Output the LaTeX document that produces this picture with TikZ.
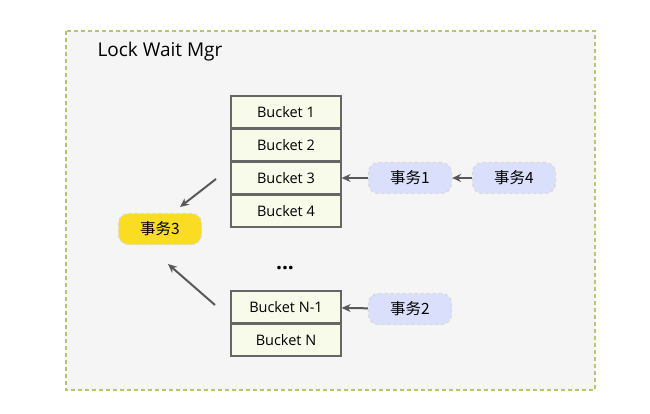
\documentclass[tikz,border=0pt]{standalone}
\usepackage{fontspec}
\setmainfont{Open Sans}
\newfontfamily\cjk{Noto Sans CJK SC}
\usetikzlibrary{arrows.meta}
\definecolor{mgrfill}{HTML}{F5F5F5}
\definecolor{mgrline}{HTML}{B3C86C}
\definecolor{bucketfill}{HTML}{F8FAEA}
\definecolor{trxfill}{HTML}{DAE0FB}
\definecolor{trxwait}{HTML}{FADC23}
\begin{document}
\begin{tikzpicture}[x=1pt,y=-1pt,
        bucket/.style={
          draw=black!60,line width=1.2pt,fill=bucketfill,minimum width=110pt,minimum height=32pt,
          inner sep=0pt,font=\fontsize{14.5}{16}\selectfont
        },
        trx/.style={
          draw=black!15,dashed,line width=1.2pt,fill=trxfill,rounded corners=10pt,
          minimum width=83pt,minimum height=31pt,inner sep=0pt,font=\cjk\fontsize{15.5}{17}\selectfont
        },
        link/.style={
          color=black!65,line width=2pt,-{Stealth[length=9pt,width=8pt]}
        }
      ]
      \useasboundingbox (0,0) rectangle (650,414);
      \draw [mgrline,fill=mgrfill,line width=2.4pt,dash pattern=on 4pt off 3pt] (66,31) rectangle (595,390);
      \node [anchor=west,font=\fontsize{19}{21}\selectfont] (title) at (94,52) {Lock Wait Mgr};
      % buckets
      \foreach \i in {1,...,4}
        \node [bucket] (b\i) at (286,79+33*\i) {Bucket \i};
      \node [font=\fontsize{21}{23}\selectfont\bfseries] (dots) at (285,268) {...};
      \node [bucket] (bn1) at (286,307) {Bucket N-1};
      \node [bucket] (bn) at (286,340) {Bucket N};
      % transactions
      \node [trx] (t1) at (410,178) {事务1};
      \node [trx] (t4) at (514,178) {事务4};
      \node [trx] (t2) at (410,309) {事务2};
      \node [trx,fill=trxwait] (t3) at (160,229) {事务3};
      \coordinate (w1) at (216,179);
      \coordinate (w1e) at (180,207);
      \coordinate (w2) at (215,305);
      \coordinate (w2e) at (168,264);
      \draw [link] (t1) -- (b3);
      \draw [link] (t4) -- (t1);
      \draw [link] (t2) -- (bn1);
      \draw [link] (w1) -- (w1e);
      \draw [link] (w2) -- (w2e);
    \end{tikzpicture}
\end{document}
